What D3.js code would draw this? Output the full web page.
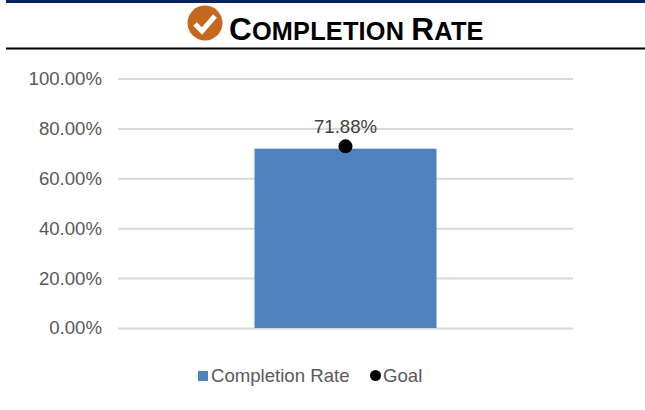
<!DOCTYPE html>
<html><head><meta charset="utf-8">
<script src="https://cdn.jsdelivr.net/npm/d3@7/dist/d3.min.js"></script>
<style>html,body{margin:0;padding:0;background:#fff}svg{display:block}text{font-family:"Liberation Sans",Arial,sans-serif}</style>
</head><body><svg id="c" width="645" height="410"></svg>
<script>
const categories = ["Completion Rate"];
const rateValues = [71.88];
const goalValues = [72.8];
const tickValues = [0, 20, 40, 60, 80, 100];
const tickLabels = ["0.00%", "20.00%", "40.00%", "60.00%", "80.00%", "100.00%"];
const legendLabels = ["Completion Rate", "Goal"];
const titleCap = ["C", "R"];
const titleRest = ["OMPLETION ", "ATE"];

const svg = d3.select("#c");
const y = d3.scaleLinear().domain([0, 100]).range([328, 78.5]);
const x = d3.scaleBand().domain(categories).range([118, 573]).paddingInner(0.6).paddingOuter(0.297);

// header rules
svg.append("rect").attr("x", 6).attr("y", 0).attr("width", 639).attr("height", 3).attr("fill", "#0a2463");
svg.append("line").attr("x1", 6).attr("x2", 645).attr("y1", 48.5).attr("y2", 48.5).attr("stroke", "#000").attr("stroke-width", 2);

// title icon
const icon = svg.append("g").attr("transform", "translate(205,23)");
icon.append("ellipse").attr("rx", 17.5).attr("ry", 17.5).attr("fill", "#c4671f");
icon.append("path").attr("d", "M-10,1 L-3,8 L10,-7").attr("fill", "none").attr("stroke", "#fff").attr("stroke-width", 5);

// title
const t = svg.append("text").attr("x", 229).attr("y", 40).attr("font-weight", "bold").attr("fill", "#000").attr("letter-spacing", "0.2");
titleCap.forEach((c, i) => {
  t.append("tspan").attr("font-size", 31.5).text(c);
  t.append("tspan").attr("font-size", 25.3).text(titleRest[i]);
});

// y axis
const axis = d3.axisLeft(y).tickValues(tickValues).tickFormat((d, i) => tickLabels[i]).tickSize(-455).tickPadding(16);
const ga = svg.append("g").attr("transform", "translate(118,0)").call(axis);
ga.select(".domain").remove();
ga.selectAll(".tick line").attr("stroke", "#d9d9d9").attr("stroke-width", 2);
ga.selectAll(".tick text").attr("fill", "#595959").attr("font-size", 18.6).attr("font-family", '"Liberation Sans",Arial,sans-serif');

// bar
svg.selectAll(".bar").data(rateValues).join("rect").attr("class", "bar")
  .attr("x", (d, i) => x(categories[i])).attr("width", x.bandwidth())
  .attr("y", d => y(d)).attr("height", d => y(0) - y(d)).attr("fill", "#4f81bd");

// goal dot
svg.selectAll(".goal").data(goalValues).join("circle").attr("class", "goal")
  .attr("cx", (d, i) => x(categories[i]) + x.bandwidth() / 2).attr("cy", d => y(d)).attr("r", 7).attr("fill", "#000");

// data label
svg.selectAll(".lab").data(rateValues).join("text").attr("class", "lab")
  .attr("x", (d, i) => x(categories[i]) + x.bandwidth() / 2).attr("y", 133)
  .attr("text-anchor", "middle").attr("font-size", 18.6).attr("fill", "#404040")
  .text(d => d.toFixed(2) + "%");

// legend
svg.append("rect").attr("x", 198).attr("y", 371).attr("width", 10).attr("height", 10).attr("fill", "#4f81bd");
svg.append("text").attr("x", 211).attr("y", 382).attr("font-size", 18.6).attr("fill", "#595959").text(legendLabels[0]);
svg.append("circle").attr("cx", 375.5).attr("cy", 375.5).attr("r", 5.5).attr("fill", "#000");
svg.append("text").attr("x", 383).attr("y", 382).attr("font-size", 18.6).attr("fill", "#595959").text(legendLabels[1]);
</script></body></html>
